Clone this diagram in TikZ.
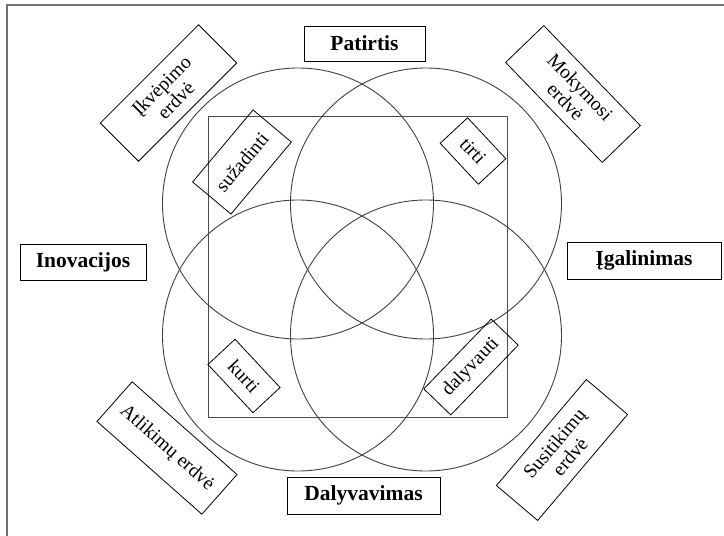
\documentclass[tikz,border=0pt]{standalone}
\usepackage{fontspec}
\setmainfont{Liberation Serif}
\begin{document}
\begin{tikzpicture}[x=1pt,y=-1pt,
  ring/.style={circle, draw=black!75, line width=0.9pt, minimum size=271pt, inner sep=0pt},
  frame/.style={draw=black!70, line width=1pt, inner sep=0pt},
  mainlab/.style={draw=black, line width=0.9pt, inner sep=0pt, font=\bfseries\fontsize{21.5}{23}\selectfont},
  sublab/.style={draw=black, line width=0.8pt, inner sep=0pt, align=center, font=\fontsize{19.5}{20.5}\selectfont}]
\useasboundingbox (0,0) rectangle (724,536);
\coordinate (fa) at (7,536);
\coordinate (fb) at (7,5);
\coordinate (fc) at (724,5);
\draw[black!55, line width=1.2pt] (fa) -- (fb) -- (fc);
% square
\node[frame, minimum width=299pt, minimum height=301pt] (sq) at (357.5,266.5) {};
% circles
\node[ring] (c1) at (298,203.5) {};
\node[ring] (c2) at (426,203.5) {};
\node[ring] (c3) at (298,335.5) {};
\node[ring] (c4) at (426,335.5) {};
% main labels
\node[mainlab, minimum width=121pt, minimum height=35pt] (pat) at (364.5,43.5) {Patirtis};
\node[mainlab, minimum width=126pt, minimum height=36pt] (ino) at (83,262) {Inovacijos};
\node[mainlab, minimum width=154pt, minimum height=37pt] (iga) at (644,260.5) {Įgalinimas};
\node[mainlab, minimum width=153pt, minimum height=37pt] (dal) at (363.5,495.5) {Dalyvavimas};
% spaces
\node[sublab, minimum width=139pt, minimum height=54pt, rotate=45] (ikv) at (168.5,93) {Įkvėpimo\\erdvė};
\node[sublab, minimum width=139pt, minimum height=53pt, rotate=-46] (mok) at (573,94) {Mokymosi\\erdvė};
\node[sublab, minimum width=140pt, minimum height=53pt, rotate=-41.5] (atl) at (167,448) {Atlikimų erdvė};
\node[sublab, minimum width=139pt, minimum height=54pt, rotate=49.7] (sus) at (562,450) {Susitikimų\\erdvė};
% verbs
\node[sublab, minimum width=94pt, minimum height=50pt, rotate=50] (suz) at (242,162) {sužadinti};
\node[sublab, minimum width=56pt, minimum height=37.5pt, rotate=-47] (tir) at (473,151) {tirti};
\node[sublab, minimum width=66pt, minimum height=37pt, rotate=-47] (kur) at (244,376) {kurti};
\node[sublab, minimum width=97pt, minimum height=37.5pt, rotate=46] (dly) at (471,367) {dalyvauti};
\end{tikzpicture}
\end{document}
